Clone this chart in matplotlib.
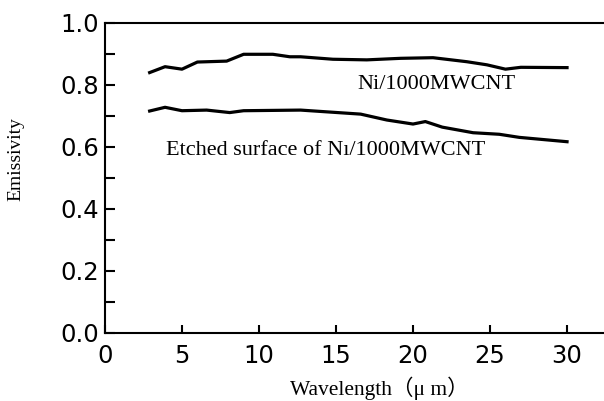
import numpy as np
import matplotlib
matplotlib.use('Agg')
import matplotlib.pyplot as plt
from matplotlib.ticker import MultipleLocator

# Emissivity spectra
wl_ni = [2.9, 3.9, 5.0, 6.0, 7.9, 9.0, 10.9, 12.0, 12.7, 14.8, 17.0, 19.2, 21.3, 23.5, 24.8, 26.0, 27.0, 30.0]
em_ni = [0.840, 0.859, 0.851, 0.874, 0.877, 0.899, 0.899, 0.891, 0.891, 0.883, 0.881, 0.886, 0.888, 0.875, 0.865, 0.851, 0.857, 0.856]

wl_etched = [2.9, 3.9, 5.0, 6.6, 8.1, 9.0, 12.7, 16.6, 18.3, 20.0, 20.8, 21.9, 23.9, 25.6, 26.9, 30.0]
em_etched = [0.716, 0.728, 0.717, 0.719, 0.711, 0.717, 0.719, 0.706, 0.687, 0.674, 0.682, 0.664, 0.646, 0.641, 0.631, 0.617]

serif = ['Liberation Serif', 'Noto Sans CJK SC']
sans = 'DejaVu Sans'

fig = plt.figure(figsize=(6.04, 4.01), dpi=100)
ax = fig.add_axes([0.1738, 0.1696, 0.8262, 0.7731])

ax.plot(wl_ni, em_ni, color='black', lw=2.3)
ax.plot(wl_etched, em_etched, color='black', lw=2.3)

ax.text(21.5, 0.80, 'Ni/1000MWCNT', family=serif, fontsize=16, ha='center', va='center')
ax.text(3.95, 0.59, 'Etched surface of Nı/1000MWCNT', family=serif, fontsize=16, ha='left', va='center')

ax.set_xlim(0, 32.4)
ax.set_ylim(0, 1.0)
ax.xaxis.set_major_locator(MultipleLocator(5))
ax.yaxis.set_major_locator(MultipleLocator(0.2))
ax.yaxis.set_minor_locator(MultipleLocator(0.1))
ax.yaxis.set_major_formatter(plt.FormatStrFormatter('%.1f'))

ax.tick_params(axis='both', which='both', direction='in', width=1.5, labelsize=17.5)
ax.tick_params(axis='y', which='both', length=7, pad=4, right=False)
ax.tick_params(axis='x', which='major', length=6, pad=8, top=False)
for lab in ax.get_xticklabels() + ax.get_yticklabels():
    lab.set_family(sans)

ax.spines['right'].set_visible(False)
for s in ['left', 'bottom', 'top']:
    ax.spines[s].set_linewidth(1.5)

ax.set_xlabel('Wavelength（μ m）', family=serif, fontsize=15.5)
ax.set_ylabel('Emissivity', family=serif, fontsize=14)
ax.xaxis.set_label_coords(0.55, -0.142)
ax.yaxis.set_label_coords(-0.162, 0.561)

fig.savefig('out.png', dpi=100)
